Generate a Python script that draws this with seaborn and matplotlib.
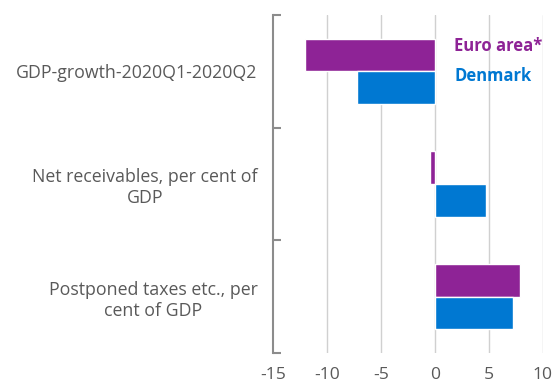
import matplotlib
matplotlib.use("Agg")
import matplotlib.pyplot as plt
import pandas as pd
import seaborn as sns

categories = [
    "GDP-growth-2020Q1-2020Q2",
    "Net receivables, per cent of\nGDP",
    "Postponed taxes etc., per\ncent of GDP",
]
series = ["Euro area*", "Denmark"]
euro_area = [-12.0, -0.45, 7.9]
denmark = [-7.2, 4.7, 7.25]
colors = ["#8E2396", "#0078D2"]

df = pd.DataFrame({
    "category": categories * 2,
    "series": [series[0]] * 3 + [series[1]] * 3,
    "value": euro_area + denmark,
})

sns.set_style("white")
plt.rcParams["font.family"] = ["Open Sans", "DejaVu Sans"]

fig = plt.figure(figsize=(5.52, 3.85), dpi=100)
ax = fig.add_axes([0.4946, 0.083, 0.489, 0.878])

sns.barplot(data=df, y="category", x="value", hue="series", order=categories,
            hue_order=series, palette=colors, orient="h", width=0.58,
            saturation=1, ax=ax)

ax.set_xlim(-15, 10)
ax.set_ylim(2.5, -0.5)
ax.set_xticks(range(-15, 11, 5))
ax.set_xticklabels([str(v) for v in range(-15, 11, 5)])
ax.grid(axis="x", color="#D0D0D0", linewidth=1)
ax.get_xgridlines()[0].set_visible(False)
ax.set_axisbelow(True)

for s in ["top", "right", "bottom"]:
    ax.spines[s].set_visible(False)
ax.spines["left"].set_color("#8C8C8C")
ax.spines["left"].set_linewidth(1.5)

ax.set_yticks([-0.5, 0.5, 1.5, 2.5], minor=True)
ax.tick_params(axis="y", which="minor", left=True, direction="in", length=6,
               color="#8C8C8C", width=1.5)
ax.tick_params(axis="y", which="major", left=False, length=0, pad=11,
               labelsize=12.8, labelcolor="#595959")
ax.tick_params(axis="x", length=0, pad=10, labelsize=12.6, labelcolor="#595959")
for t in ax.get_yticklabels():
    t.set_multialignment("center")

ax.set_xlabel("")
ax.set_ylabel("")

leg = ax.legend(loc="upper left", bbox_to_anchor=(0.672, 0.935), frameon=False,
                handlelength=0, handletextpad=0, borderpad=0, borderaxespad=0,
                labelspacing=0.75, labelcolor=colors,
                prop={"weight": "bold", "size": 12})
for h in leg.legend_handles:
    h.set_visible(False)

fig.savefig("out.png", dpi=100)
